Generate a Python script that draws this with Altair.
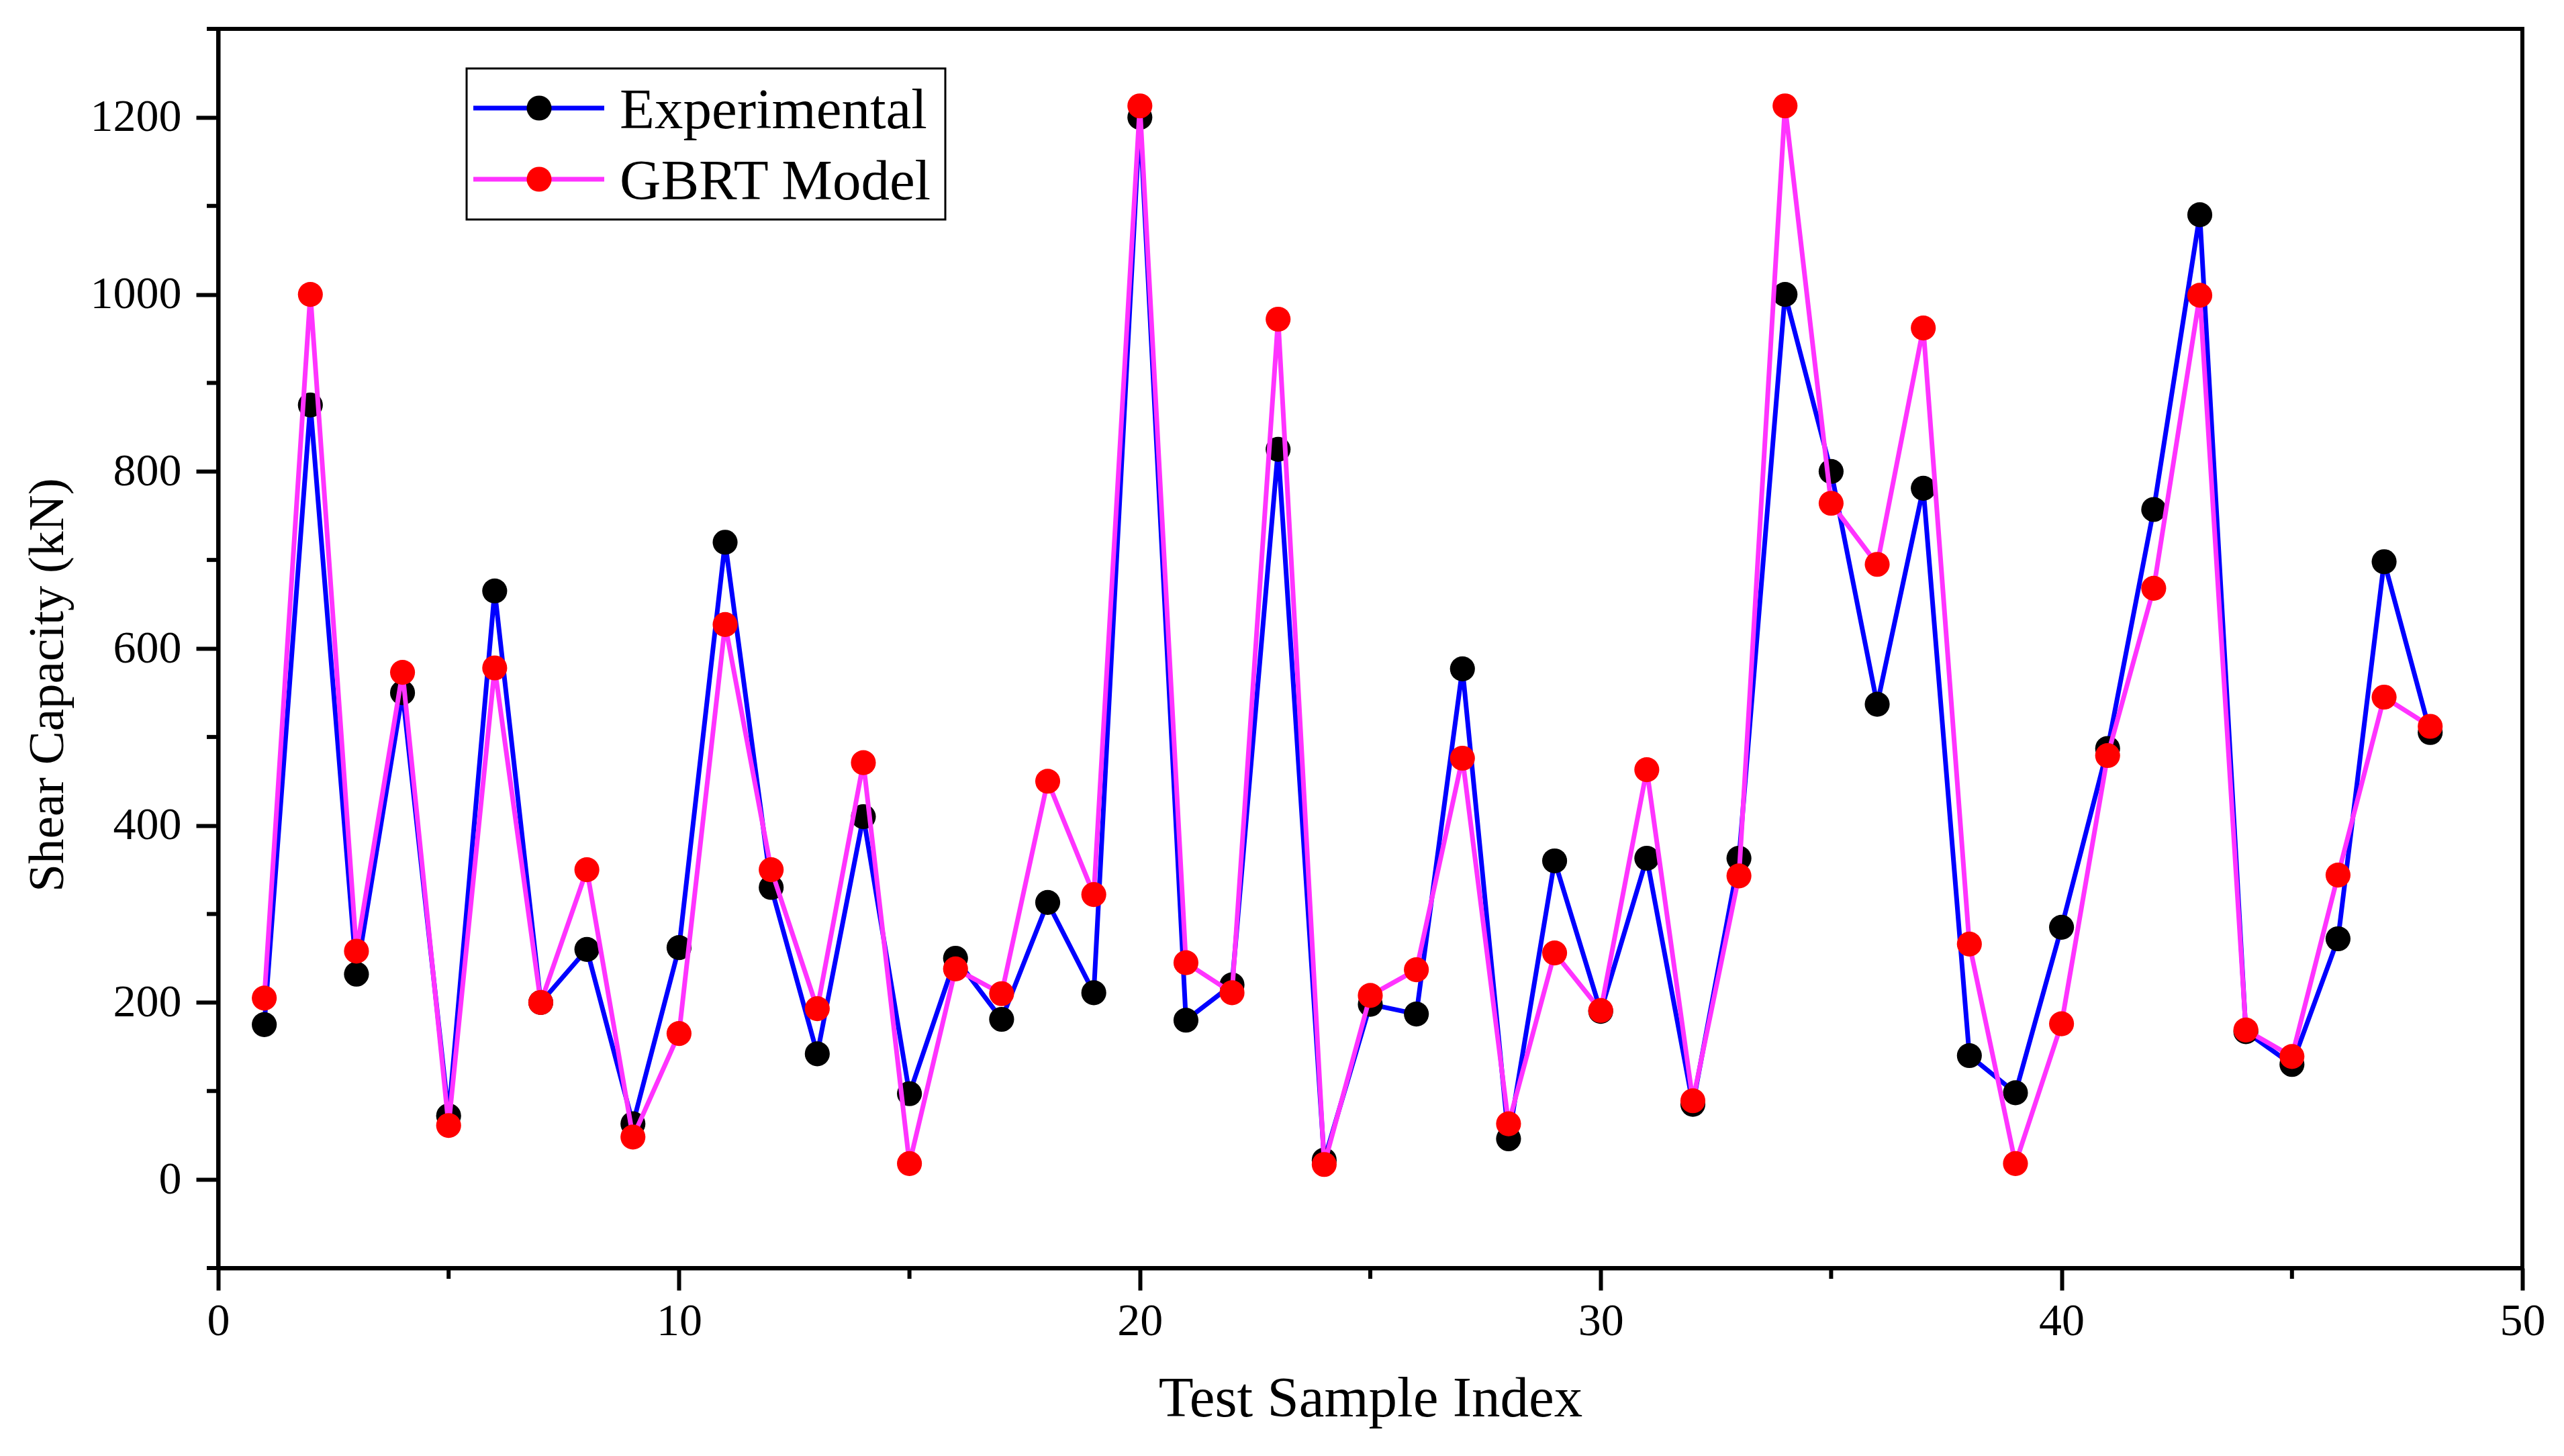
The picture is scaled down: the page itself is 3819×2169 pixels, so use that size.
import altair as alt
import pandas as pd

# Datos
indice = list(range(1, 49))
experimental = [175, 875, 232, 550, 72, 665, 200, 260, 63, 262,
                720, 330, 142, 410, 97, 250, 181, 313, 211, 1200,
                180, 220, 825, 22, 198, 187, 577, 46, 360, 190,
                363, 85, 363, 1000, 800, 537, 781, 140, 98, 285,
                487, 757, 1090, 167, 130, 272, 698, 505]
gbrt = [205, 1000, 258, 573, 61, 578, 200, 350, 48, 165,
        627, 350, 193, 471, 18, 238, 210, 450, 322, 1213,
        245, 211, 972, 17, 208, 237, 476, 63, 256, 191,
        463, 89, 343, 1213, 764, 695, 962, 266, 18, 176,
        479, 668, 999, 169, 139, 344, 545, 512]

ticks_y = [0, 200, 400, 600, 800, 1000, 1200]
ticks_y_menores = [-100, 100, 300, 500, 700, 900, 1100, 1300]
ticks_x = [0, 10, 20, 30, 40, 50]
ticks_x_menores = [5, 15, 25, 35, 45]

ANCHO, ALTO = 3432, 1846
FUENTE = "Liberation Serif"
AZUL, MAGENTA, ROJO = "#0000FF", "#FF33FF", "#FF0000"

df = pd.DataFrame({"indice": indice, "experimental": experimental, "gbrt": gbrt})

escala_x = alt.Scale(domain=[0, 50], nice=False)
escala_y = alt.Scale(domain=[-100, 1300], nice=False)

eje_x = alt.Axis(values=ticks_x, format="d", labelFlush=False, labelPadding=12,
                 title="Test Sample Index", titleFontSize=85,
                 titleX=ANCHO / 2, titleY=220, titleBaseline="alphabetic")
eje_y = alt.Axis(values=ticks_y, format="d", labelPadding=22,
                 title="Shear Capacity (kN)", titleFontSize=75,
                 titleX=-232, titleY=977, titleAngle=-90,
                 titleAlign="center", titleBaseline="alphabetic")


def xq(campo):
    return alt.X(f"{campo}:Q", scale=escala_x, axis=eje_x)


def yq(campo):
    return alt.Y(f"{campo}:Q", scale=escala_y, axis=eje_y)


base = alt.Chart(df)

linea_exp = base.mark_line(color=AZUL, strokeWidth=7).encode(
    x=xq("indice"), y=yq("experimental"),
)
puntos_exp = base.mark_circle(size=1380, color="black", opacity=1).encode(
    x=xq("indice"), y=yq("experimental"),
)
linea_gbrt = base.mark_line(color=MAGENTA, strokeWidth=7).encode(
    x=xq("indice"), y=yq("gbrt"),
)
puntos_gbrt = base.mark_circle(size=1380, color=ROJO, opacity=1).encode(
    x=xq("indice"), y=yq("gbrt"),
)

# ticks menores
menores_y = alt.Chart(pd.DataFrame({"v": ticks_y_menores})).mark_rule(
    color="black", strokeWidth=6
).encode(
    y=yq("v"),
    x=alt.value(-17), x2=alt.value(0),
)
menores_x = alt.Chart(pd.DataFrame({"v": ticks_x_menores})).mark_rule(
    color="black", strokeWidth=6
).encode(
    x=xq("v"),
    y=alt.value(ALTO), y2=alt.value(ALTO + 16),
)

# leyenda
uno = pd.DataFrame({"k": [0]})
caja = alt.Chart(uno).mark_rect(fill="white", stroke="black", strokeWidth=3).encode(
    x=alt.value(370), x2=alt.value(1083), y=alt.value(59), y2=alt.value(284),
)


def fila_leyenda(texto, color_linea, color_punto, y):
    linea = alt.Chart(uno).mark_rule(color=color_linea, strokeWidth=7).encode(
        x=alt.value(380), x2=alt.value(575), y=alt.value(y),
    )
    punto = alt.Chart(uno).mark_circle(size=1380, color=color_punto, opacity=1).encode(
        x=alt.value(478), y=alt.value(y),
    )
    etiqueta = alt.Chart(uno).mark_text(
        font=FUENTE, fontSize=85, align="left", baseline="alphabetic", color="black"
    ).encode(
        x=alt.value(598), y=alt.value(y + 30), text=alt.value(texto),
    )
    return linea + punto + etiqueta


chart = alt.layer(
    linea_exp, puntos_exp, linea_gbrt, puntos_gbrt,
    menores_y, menores_x,
    caja,
    fila_leyenda("Experimental", AZUL, "black", 118),
    fila_leyenda("GBRT Model", MAGENTA, ROJO, 224),
).properties(
    width=ANCHO,
    height=ALTO,
    autosize=alt.AutoSizeParams(type="none"),
    padding={"left": 317, "top": 35, "right": 40, "bottom": 250},
    background="white",
).configure_view(
    stroke="black", strokeWidth=6,
).configure_axis(
    grid=False,
    domainColor="black", domainWidth=6,
    tickColor="black", tickWidth=6, tickSize=33,
    labelFont=FUENTE, labelFontSize=68, labelColor="black",
    titleFont=FUENTE, titleFontWeight="normal", titleColor="black",
)

chart.save("out.html", embed_options={"renderer": "svg", "actions": False})
